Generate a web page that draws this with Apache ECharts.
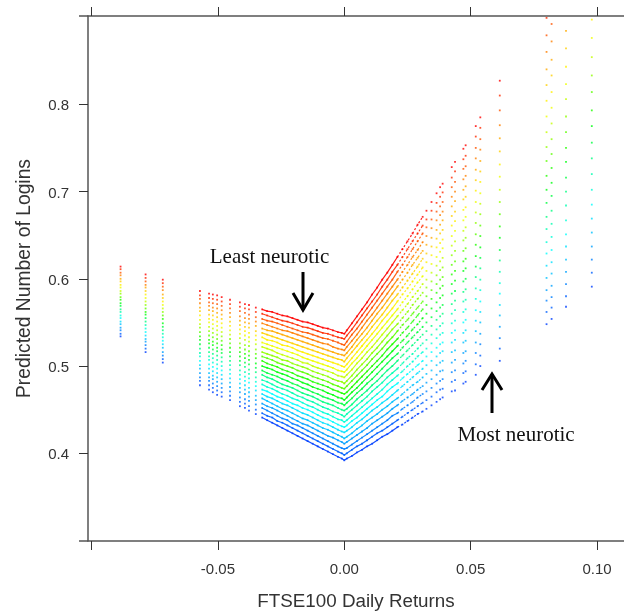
<!DOCTYPE html>
<html><head><meta charset="utf-8">
<style>html,body{margin:0;padding:0;background:#fff}#c{width:624px;height:616px}</style>
<script src="https://cdn.jsdelivr.net/npm/echarts@6/dist/echarts.min.js"></script>
</head><body><div id="c"></div>
<script>
const xTicks=[-0.1,-0.05,0,0.05,0.1];
const xLabels=[-0.05,0,0.05,0.1];
const yTicks=[0.4,0.5,0.6,0.7,0.8];
const levelColors=['#ff0000','#ff2a00','#ff5500','#ff8000','#ffaa00','#ffd000','#fff000','#eeff00','#c4ff00','#90ff00','#5cff00','#20ff00','#00ff10','#00ff40','#00ff80','#00ffb0','#00ffd8','#00ffff','#00e0ff','#00c0ff','#00a0ff','#0080ff','#0060ff','#0040ff'];
const returnsLeft=[-.0885,-.0786,-.0718,-.0571,-.0535,-.052,-.0503,-.0485,-.0452,-.0413,-.0393,-.0377,-.035,-.0325,-.0305,-.0285,-.0265,-.0245,-.0225,-.0205,-.0185,-.0165,-.0145,-.0125,-.0105,-.0085,-.0065,-.0045,-.0025,-.001,0];
const loginsLeft=[
[.614,.611,.607,.604,.600,.597,.593,.590,.586,.583,.579,.576,.572,.569,.565,.562,.558,.555,.551,.548,.544,.541,.537,.534],
[.605,.601,.597,.593,.590,.586,.582,.578,.574,.570,.566,.562,.559,.555,.551,.547,.543,.539,.535,.531,.528,.524,.520,.516],
[.599,.595,.591,.587,.582,.578,.574,.570,.566,.562,.558,.554,.549,.545,.541,.537,.533,.529,.525,.521,.516,.512,.508,.504],
[.586,.581,.577,.572,.567,.563,.558,.553,.548,.544,.539,.534,.530,.525,.520,.515,.511,.506,.501,.497,.492,.487,.483,.478],
[.583,.578,.573,.569,.564,.559,.554,.550,.545,.540,.535,.530,.526,.521,.516,.511,.507,.502,.497,.492,.487,.483,.478,.473],
[.582,.577,.572,.567,.563,.558,.553,.548,.543,.538,.533,.528,.524,.519,.514,.509,.504,.499,.494,.489,.485,.480,.475,.470],
[.581,.576,.571,.566,.561,.556,.551,.546,.541,.536,.531,.526,.521,.517,.512,.507,.502,.497,.492,.487,.482,.477,.472,.467],
[.579,.574,.569,.564,.559,.554,.549,.544,.539,.534,.529,.524,.519,.515,.510,.505,.500,.495,.490,.485,.480,.475,.470,.465],
[.576,.571,.566,.561,.556,.551,.546,.541,.536,.531,.526,.521,.516,.511,.506,.501,.496,.491,.486,.481,.476,.471,.466,.461],
[.573,.568,.563,.557,.552,.547,.542,.537,.532,.526,.521,.516,.511,.506,.501,.495,.490,.485,.480,.475,.470,.464,.459,.454],
[.571,.566,.561,.555,.550,.545,.540,.535,.530,.524,.519,.514,.509,.504,.499,.493,.488,.483,.478,.473,.468,.462,.457,.452],
[.570,.565,.559,.554,.549,.544,.538,.533,.528,.523,.517,.512,.507,.502,.496,.491,.486,.481,.475,.470,.465,.460,.454,.449],
[.567,.562,.556,.551,.546,.540,.535,.530,.525,.519,.514,.509,.503,.498,.493,.487,.482,.477,.472,.466,.461,.456,.450,.445],
[.565,.560,.554,.549,.543,.538,.533,.527,.522,.516,.511,.506,.500,.495,.490,.484,.479,.473,.468,.463,.457,.452,.446,.441],
[.563,.558,.552,.547,.541,.536,.530,.525,.520,.514,.509,.503,.498,.492,.487,.482,.476,.471,.465,.460,.454,.449,.443,.438],
[.562,.556,.551,.545,.540,.534,.529,.523,.518,.512,.507,.501,.496,.490,.485,.479,.474,.468,.463,.457,.452,.446,.441,.435],
[.560,.554,.549,.543,.538,.532,.527,.521,.515,.510,.504,.499,.493,.488,.482,.476,.471,.465,.460,.454,.449,.443,.437,.432],
[.558,.552,.547,.541,.536,.530,.524,.519,.513,.507,.502,.496,.491,.485,.479,.474,.468,.463,.457,.451,.446,.440,.435,.429],
[.557,.551,.545,.540,.534,.528,.523,.517,.511,.506,.500,.494,.489,.483,.477,.472,.466,.460,.455,.449,.443,.438,.432,.426],
[.555,.549,.543,.538,.532,.526,.521,.515,.509,.503,.498,.492,.486,.480,.475,.469,.463,.457,.452,.446,.440,.434,.429,.423],
[.553,.547,.541,.536,.530,.524,.518,.513,.507,.501,.495,.489,.484,.478,.472,.466,.461,.455,.449,.443,.437,.432,.426,.420],
[.551,.545,.539,.534,.528,.522,.516,.510,.504,.499,.493,.487,.481,.475,.469,.464,.458,.452,.446,.440,.434,.429,.423,.417],
[.550,.544,.538,.532,.526,.520,.514,.508,.503,.497,.491,.485,.479,.473,.467,.461,.455,.450,.444,.438,.432,.426,.420,.414],
[.548,.542,.536,.530,.524,.518,.512,.506,.500,.494,.488,.482,.476,.470,.465,.459,.453,.447,.441,.435,.429,.423,.417,.411],
[.546,.540,.534,.528,.522,.516,.510,.504,.498,.492,.486,.480,.474,.468,.462,.456,.450,.444,.438,.432,.426,.420,.414,.408],
[.544,.538,.532,.526,.520,.514,.508,.502,.496,.490,.484,.478,.472,.465,.459,.453,.447,.441,.435,.429,.423,.417,.411,.405],
[.543,.537,.531,.525,.518,.512,.506,.500,.494,.488,.482,.476,.469,.463,.457,.451,.445,.439,.433,.427,.420,.414,.408,.402],
[.541,.535,.529,.522,.516,.510,.504,.498,.492,.485,.479,.473,.467,.461,.455,.448,.442,.436,.430,.424,.418,.411,.405,.399],
[.539,.533,.527,.520,.514,.508,.502,.495,.489,.483,.477,.471,.464,.458,.452,.446,.439,.433,.427,.421,.415,.408,.402,.396],
[.538,.532,.525,.519,.513,.507,.500,.494,.488,.482,.475,.469,.463,.457,.450,.444,.438,.431,.425,.419,.413,.406,.400,.394],
[.537,.531,.524,.518,.512,.505,.499,.493,.487,.480,.474,.468,.461,.455,.449,.442,.436,.430,.424,.417,.411,.405,.398,.392]
];
const returnsRight=[.001,.003,.005,.007,.009,.011,.013,.015,.017,.019,.021,.023,.025,.027,.029,.031,.0325,.0345,.0365,.0379,.0389,.0425,.0438,.0471,.048,.052,.0538,.0615,.08,.082,.0877,.0979];
const loginsRight=[
[.541,.535,.528,.522,.515,.509,.502,.496,.490,.483,.477,.470,.464,.458,.451,.445,.438,.432,.426,.419,.413,.406,.400,.394],
[.549,.542,.536,.529,.522,.516,.509,.503,.496,.489,.483,.476,.470,.463,.456,.450,.443,.437,.430,.423,.417,.410,.404,.397],
[.557,.550,.543,.536,.530,.523,.516,.509,.503,.496,.489,.482,.475,.469,.462,.455,.448,.441,.435,.428,.421,.414,.408,.401],
[.565,.558,.551,.544,.537,.530,.523,.516,.509,.502,.495,.488,.481,.474,.467,.460,.453,.446,.439,.432,.425,.418,.411,.404],
[.573,.566,.559,.552,.544,.537,.530,.523,.516,.508,.501,.494,.487,.480,.472,.465,.458,.451,.444,.437,.429,.422,.415,.408],
[.582,.574,.567,.559,.552,.545,.537,.530,.522,.515,.508,.500,.493,.485,.478,.471,.463,.456,.449,.441,.434,.426,.419,.411],
[.590,.582,.575,.567,.560,.552,.544,.537,.529,.521,.514,.506,.499,.491,.483,.476,.468,.461,.453,.445,.438,.430,.423,.415],
[.599,.591,.583,.575,.567,.559,.552,.544,.536,.528,.520,.512,.505,.497,.489,.481,.473,.465,.458,.450,.442,.434,.426,.419],
[.607,.599,.591,.583,.575,.567,.559,.551,.543,.535,.527,.519,.511,.503,.495,.487,.479,.471,.462,.454,.446,.438,.430,.422],
[.616,.608,.599,.591,.583,.575,.566,.558,.550,.542,.533,.525,.517,.509,.500,.492,.484,.476,.467,.459,.451,.443,.434,.426],
[.625,.616,.608,.599,.591,.582,.574,.565,.557,.548,.540,.531,.523,.514,.506,.497,.489,.480,.472,.463,.455,.446,.438,.430],
[.634,.625,.616,.608,.599,.590,.582,.573,.564,.555,.547,.538,.529,.521,.512,.503,.494,.486,.477,.468,.460,.451,.442,.433],
[.643,.634,.625,.616,.607,.598,.589,.580,.571,.562,.553,.544,.535,.527,.518,.509,.500,.491,.482,.473,.464,.455,.446,.437],
[.652,.643,.634,.625,.616,.606,.597,.588,.579,.570,.560,.551,.542,.533,.524,.514,.505,.496,.487,.478,.468,.459,.450,.441],
[.662,.652,.643,.633,.624,.614,.605,.596,.586,.577,.567,.558,.548,.539,.530,.520,.511,.501,.492,.482,.473,.464,.454,.445],
[.671,.661,.652,.642,.632,.623,.613,.603,.594,.584,.574,.565,.555,.545,.536,.526,.516,.506,.497,.487,.477,.468,.458,.448],
[.678,.668,.659,.649,.639,.629,.619,.609,.599,.590,.580,.570,.560,.550,.540,.530,.520,.511,.501,.491,.481,.471,.461,.451],
[.688,.678,.668,.658,.647,.637,.627,.617,.607,.597,.587,.577,.566,.556,.546,.536,.526,.516,.506,.495,.485,.475,.465,.455],
[.698,.687,.677,.667,.656,.646,.636,.625,.615,.604,.594,.584,.573,.563,.553,.542,.532,.521,.511,.501,.490,.480,.470,.459],
[.705,.694,.683,.673,.662,.652,.641,.631,.620,.610,.599,.589,.578,.567,.557,.546,.536,.525,.515,.504,.494,.483,.473,.462],
[.709,.699,.688,.677,.667,.656,.645,.635,.624,.613,.602,.592,.581,.570,.560,.549,.538,.527,.517,.506,.495,.485,.474,.464],
[.728,.716,.705,.694,.683,.672,.661,.649,.638,.627,.616,.605,.594,.583,.571,.560,.549,.538,.527,.516,.504,.493,.482,.471],
[.734,.723,.711,.700,.689,.677,.666,.655,.643,.632,.620,.609,.598,.586,.575,.564,.552,.541,.530,.518,.507,.495,.484,.472],
[.749,.737,.726,.714,.702,.691,.679,.667,.655,.644,.632,.620,.609,.597,.585,.574,.562,.550,.538,.527,.515,.503,.492,.480],
[.753,.741,.729,.718,.706,.694,.682,.671,.659,.647,.635,.623,.612,.600,.588,.576,.565,.553,.541,.529,.517,.506,.494,.482],
[.775,.763,.750,.738,.725,.713,.701,.688,.676,.664,.651,.639,.626,.614,.602,.589,.577,.564,.552,.540,.527,.515,.502,.490],
[.785,.773,.760,.748,.735,.723,.711,.698,.686,.674,.661,.649,.636,.624,.612,.599,.587,.574,.562,.550,.537,.525,.512,.500],
[.827,.810,.793,.776,.761,.746,.731,.717,.702,.688,.674,.660,.647,.633,.621,.608,.595,.583,.570,.558,.545,.532,.520,.506],
[null,.899,.879,.860,.840,.822,.804,.786,.768,.751,.735,.718,.702,.687,.671,.657,.642,.629,.615,.601,.587,.575,.562,.548],
[null,null,.892,.872,.851,.833,.814,.796,.778,.760,.743,.727,.710,.695,.678,.663,.648,.633,.619,.606,.592,.579,.567,.554],
[null,null,null,null,.884,.864,.843,.823,.806,.786,.768,.750,.734,.716,.700,.684,.667,.651,.637,.622,.608,.594,.580,.568],
[null,null,null,null,null,null,.897,.876,.854,.833,.814,.793,.775,.756,.738,.720,.702,.685,.669,.653,.637,.622,.607,.591]
];
const xScale=[-0.10138,0.11064];
const yScale=[0.29954,0.90115];
const solidRange=[-0.0325,0.021];
const dashedRange=[0.021,0.031];
const allX=returnsLeft.concat(returnsRight);
const allY=loginsLeft.concat(loginsRight);
const scatterSeries=levelColors.map((color,level)=>({
  type:'scatter',symbol:'rect',symbolSize:1.8,silent:true,clip:true,
  itemStyle:{color:color},
  data:allX.map((x,i)=>[x,allY[i][level]]).filter(p=>p[1]!==null)
}));
const rowSeries=(range,width,dash)=>levelColors.map((color,level)=>({
  type:'line',showSymbol:false,silent:true,clip:true,smooth:false,
  lineStyle:{color:color,width:width,type:dash,opacity:0.9},
  data:allX.map((x,i)=>[x,allY[i][level]]).filter(p=>p[0]>=range[0]&&p[0]<=range[1])
}));
const axisLine={show:true,onZero:false,lineStyle:{color:'#555',width:1.5}};
const tickStyle={color:'#333',width:1};
const fontFamily='"Liberation Sans",Arial,sans-serif';
const chart=echarts.init(document.getElementById('c'),null,{renderer:'canvas'});
chart.setOption({
  animation:false,backgroundColor:'#fff',
  grid:{left:88,right:0,top:16,bottom:75,containLabel:false},
  xAxis:[{
    type:'value',position:'bottom',min:xScale[0],max:xScale[1],
    name:'FTSE100 Daily Returns',nameLocation:'middle',nameGap:51,
    nameTextStyle:{fontFamily,fontSize:18.8,color:'#333'},
    axisLine,splitLine:{show:false},
    axisTick:{show:true,length:9,lineStyle:tickStyle,customValues:xTicks},
    axisLabel:{show:true,margin:21,fontFamily,fontSize:15,color:'#333',customValues:xLabels,formatter:v=>v.toFixed(2)}
  },{
    type:'value',position:'top',min:xScale[0],max:xScale[1],
    axisLine,splitLine:{show:false},
    axisTick:{show:true,length:9,lineStyle:tickStyle,customValues:xTicks},
    axisLabel:{show:false}
  }],
  yAxis:{
    type:'value',position:'left',min:yScale[0],max:yScale[1],
    name:'Predicted Number of Logins',nameLocation:'middle',nameGap:54,
    nameTextStyle:{fontFamily,fontSize:19.3,color:'#333'},
    axisLine,splitLine:{show:false},
    axisTick:{show:true,length:9,lineStyle:tickStyle,customValues:yTicks},
    axisLabel:{show:true,margin:19,verticalAlign:'top',lineHeight:4,fontFamily,fontSize:15,color:'#333',customValues:yTicks,formatter:v=>v.toFixed(1)}
  },
  series:scatterSeries.concat(rowSeries(solidRange,1.2,'solid'),rowSeries(dashedRange,1.2,[2,2])),
  graphic:[
    {type:'line',shape:{x1:79,y1:16,x2:88,y2:16},style:{stroke:'#555',lineWidth:1.5}},
    {type:'line',shape:{x1:79,y1:541,x2:88,y2:541},style:{stroke:'#555',lineWidth:1.5}},
    {type:'text',x:269.5,y:257,style:{text:'Least neurotic',font:'21px "Liberation Serif",serif',fill:'#111',textAlign:'center',textVerticalAlign:'middle'}},
    {type:'text',x:516,y:435,style:{text:'Most neurotic',font:'21px "Liberation Serif",serif',fill:'#111',textAlign:'center',textVerticalAlign:'middle'}},
    {type:'polyline',shape:{points:[[303,272],[303,310]]},style:{stroke:'#000',lineWidth:3,fill:null}},
    {type:'polyline',shape:{points:[[293,293],[303,310],[313,293]]},style:{stroke:'#000',lineWidth:3,fill:null}},
    {type:'polyline',shape:{points:[[492,413],[492,374]]},style:{stroke:'#000',lineWidth:3,fill:null}},
    {type:'polyline',shape:{points:[[482,390],[492,374],[502,390]]},style:{stroke:'#000',lineWidth:3,fill:null}}
  ]
});
</script></body></html>
